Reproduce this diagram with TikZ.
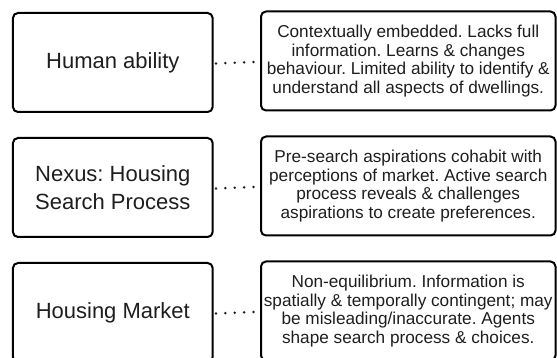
\documentclass[tikz,border=0pt]{standalone}
\usepackage{fontspec}
\setmainfont{Liberation Sans}
\frenchspacing
\definecolor{txt}{RGB}{30,30,30}
\begin{document}
\begin{tikzpicture}[x=1pt,y=-1pt,
  leftbox/.style={draw=black, line width=2pt, rounded corners=5pt, minimum width=199.7pt, minimum height=99pt, inner sep=0pt, align=center, text=txt, font=\fontsize{22}{27.5}\selectfont},
  rightbox/.style={draw=black, line width=2pt, rounded corners=5pt, minimum width=294.5pt, minimum height=99pt, inner sep=0pt, align=center, text=txt, font=\fontsize{17.2}{18.4}\selectfont},
  dotline/.style={line width=2.8pt, line cap=round, dash pattern=on 0pt off 9.4pt, draw=txt}]
\clip (0,0) rectangle (557,358);
\node[leftbox] (l1) at (112.8,62.5) {Human ability};
\node[leftbox] (l2) at (112.8,187.5) {Nexus: Housing\\Search Process};
\node[leftbox] (l3) at (112.8,312.5) {Housing Market};
\node[rightbox] (r1) at (408.25,61) {Contextually embedded. Lacks full\\information. Learns \& changes\\behaviour. Limited ability to identify \&\\understand all aspects of dwellings.};
\node[rightbox] (r2) at (408.25,186) {Pre-search aspirations cohabit with\\perceptions of market. Active search\\process reveals \& challenges\\aspirations to create preferences.};
\node[rightbox] (r3) at (408.25,311) {Non-equilibrium. Information is\\spatially \& temporally contingent; may\\be misleading/inaccurate. Agents\\shape search process \& choices.};
\foreach \i in {1,2,3}{
  \draw[dotline] ([xshift=2.3pt,yshift=-1pt]l\i.east) -- ([xshift=-6pt,yshift=-1pt]r\i.west);
}
\end{tikzpicture}
\end{document}
